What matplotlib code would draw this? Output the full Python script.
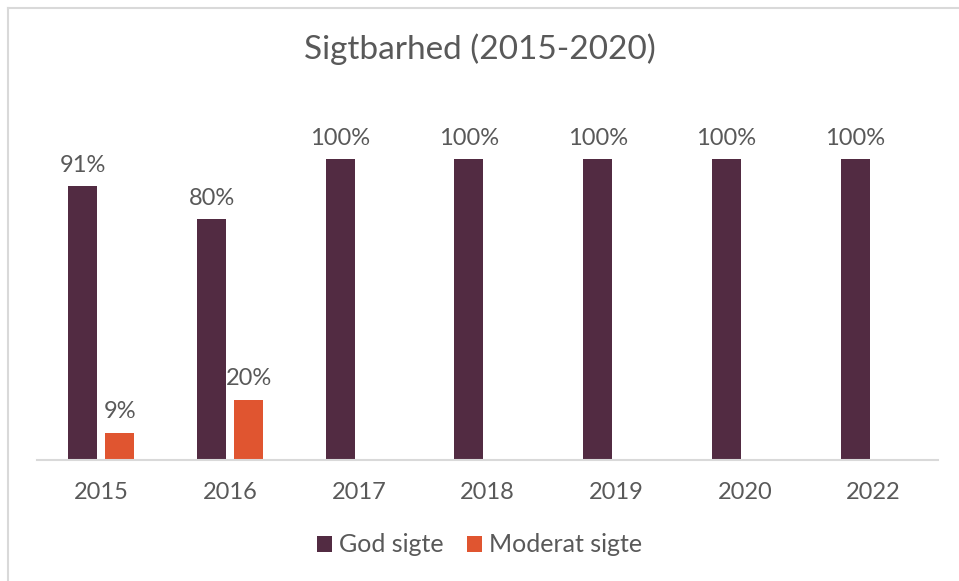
import numpy as np
import matplotlib.pyplot as plt
from matplotlib.lines import Line2D

years = ['2015', '2016', '2017', '2018', '2019', '2020', '2022']
god_sigte = [0.91, 0.80, 1.00, 1.00, 1.00, 1.00, 1.00]
moderat_sigte = [0.09, 0.20, 0, 0, 0, 0, 0]

purple = '#522B42'
orange = '#E05530'
txt = '#595959'

plt.rcParams['font.family'] = ['Lato', 'DejaVu Sans']

fig = plt.figure(figsize=(9.59, 5.81), dpi=100)
ax = fig.add_axes([37/959, 1 - 460/581, 901/959, 361/581])

x = np.arange(len(years))
w = 0.225
off = 0.144
b1 = ax.bar(x - off, god_sigte, w, color=purple, label='God sigte')
b2 = ax.bar(x + off, moderat_sigte, w, color=orange, label='Moderat sigte')

for rect, v in zip(b1, god_sigte):
    ax.text(rect.get_x() + rect.get_width() / 2, v + 0.035, '%d%%' % round(v * 100),
            ha='center', va='bottom', fontsize=17, color=txt)
for rect, v in zip(b2, moderat_sigte):
    if v > 0:
        ax.text(rect.get_x() + rect.get_width() / 2, v + 0.035, '%d%%' % round(v * 100),
                ha='center', va='bottom', fontsize=17, color=txt)

ax.set_xlim(-0.5, len(years) - 0.5)
ax.set_ylim(0, 1.2)
ax.set_xticks(x)
ax.set_xticklabels(years, fontsize=17, color=txt)
ax.set_yticks([])
ax.tick_params(axis='x', length=0, pad=16)
for s in ['top', 'right', 'left']:
    ax.spines[s].set_visible(False)
ax.spines['bottom'].set_color('#D9D9D9')
ax.spines['bottom'].set_linewidth(1.5)

fig.text(0.5, 1 - 49/581, 'Sigtbarhed (2015-2020)', ha='center', va='center',
         fontsize=24, color=txt)

leg = fig.legend(handles=[b1, b2], loc='center', bbox_to_anchor=(0.5, 1 - 545/581),
                 ncol=2, frameon=False, fontsize=18, handlelength=0.6, handleheight=0.6,
                 handletextpad=0.3, columnspacing=0.9)
for t in leg.get_texts():
    t.set_color(txt)

# chart area border (left and top only visible)
fig.add_artist(Line2D([8/959, 8/959], [0, 1 - 8/581], transform=fig.transFigure,
                      color='#D9D9D9', lw=1.5))
fig.add_artist(Line2D([8/959, 1], [1 - 8/581, 1 - 8/581], transform=fig.transFigure,
                      color='#D9D9D9', lw=1.5))

fig.savefig('out.png', dpi=100)
